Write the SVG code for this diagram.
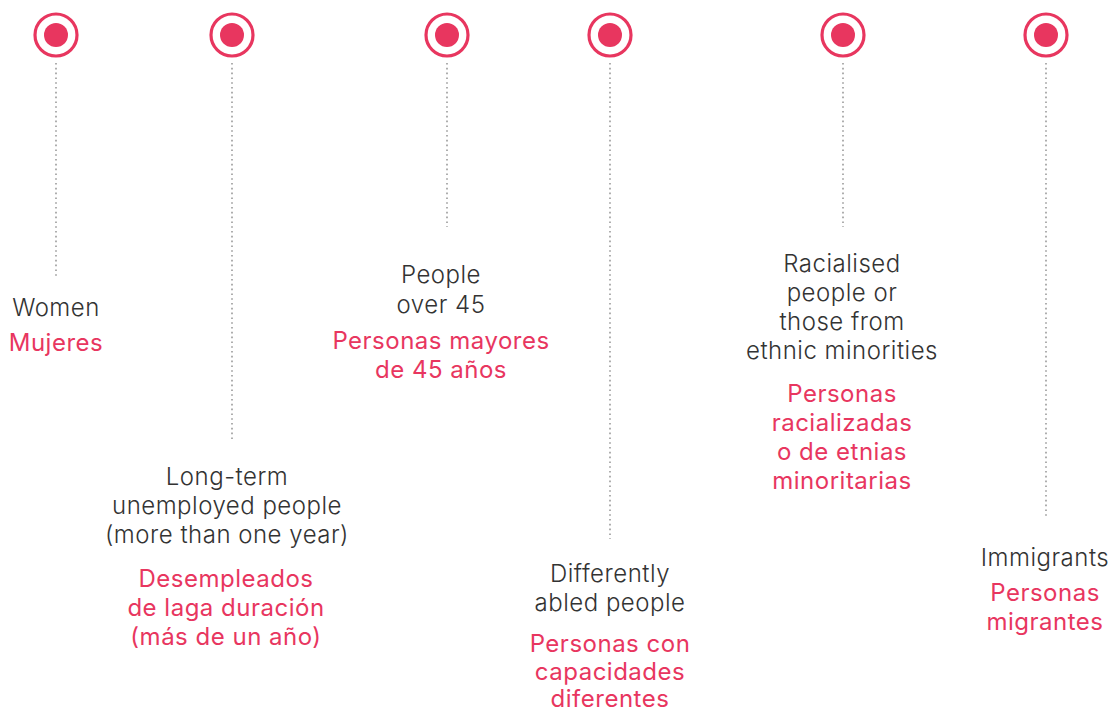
<svg xmlns="http://www.w3.org/2000/svg" width="1113" height="711" viewBox="0 0 1113 711">
<style>
.ring{fill:none;stroke:#e8365f;stroke-width:3.2}
.dot{fill:#e8365f}
.conn line{stroke:#9a9a9a;stroke-width:1.6;stroke-dasharray:1.6 3.2}
text{font-family:Inter,"Liberation Sans",sans-serif;font-size:24px;letter-spacing:0.5px;text-anchor:middle}
.en{fill:#333333;font-weight:300}
.es{fill:#e8365f;font-weight:400}
</style>
<rect width="1113" height="711" fill="#ffffff"/>
<g class="conn">
<line x1="56" y1="63" x2="56" y2="276"/>
<line x1="232" y1="63" x2="232" y2="441"/>
<line x1="447" y1="63" x2="447" y2="227"/>
<line x1="610" y1="63" x2="610" y2="539"/>
<line x1="843" y1="63" x2="843" y2="227"/>
<line x1="1046" y1="63" x2="1046" y2="519"/>
</g>
<g id="women">
<circle class="ring" cx="56" cy="35" r="21"/><circle class="dot" cx="56" cy="35" r="12"/>
<text class="en" x="56" y="316">Women</text>
<text class="es" x="56" y="351">Mujeres</text>
</g>
<g id="longterm">
<circle class="ring" cx="232" cy="35" r="21"/><circle class="dot" cx="232" cy="35" r="12"/>
<text class="en" x="227" y="485">Long-term</text>
<text class="en" x="227" y="514">unemployed people</text>
<text class="en" x="227" y="543">(more than one year)</text>
<text class="es" x="226" y="587">Desempleados</text>
<text class="es" x="226" y="616">de laga duración</text>
<text class="es" x="226" y="645">(más de un año)</text>
</g>
<g id="over45">
<circle class="ring" cx="447" cy="35" r="21"/><circle class="dot" cx="447" cy="35" r="12"/>
<text class="en" x="441" y="283">People</text>
<text class="en" x="441" y="313">over 45</text>
<text class="es" x="441" y="349">Personas mayores</text>
<text class="es" x="441" y="378">de 45 años</text>
</g>
<g id="abled">
<circle class="ring" cx="610" cy="35" r="21"/><circle class="dot" cx="610" cy="35" r="12"/>
<text class="en" x="610" y="582">Differently</text>
<text class="en" x="610" y="611">abled people</text>
<text class="es" x="610" y="652">Personas con</text>
<text class="es" x="610" y="680">capacidades</text>
<text class="es" x="610" y="707">diferentes</text>
</g>
<g id="racialised">
<circle class="ring" cx="843" cy="35" r="21"/><circle class="dot" cx="843" cy="35" r="12"/>
<text class="en" x="842" y="272">Racialised</text>
<text class="en" x="842" y="301">people or</text>
<text class="en" x="842" y="330">those from</text>
<text class="en" x="842" y="359">ethnic minorities</text>
<text class="es" x="842" y="402">Personas</text>
<text class="es" x="842" y="431">racializadas</text>
<text class="es" x="842" y="460">o de etnias</text>
<text class="es" x="842" y="489">minoritarias</text>
</g>
<g id="immigrants">
<circle class="ring" cx="1046" cy="35" r="21"/><circle class="dot" cx="1046" cy="35" r="12"/>
<text class="en" x="1045" y="566">Immigrants</text>
<text class="es" x="1045" y="601">Personas</text>
<text class="es" x="1045" y="630">migrantes</text>
</g>
</svg>
